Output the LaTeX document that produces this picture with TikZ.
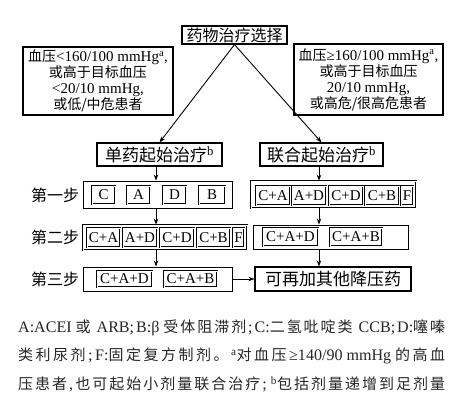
\documentclass[tikz,border=0pt]{standalone}
\usepackage{fontspec}
\setmainfont{Liberation Serif}[Scale=1.07]
\newfontfamily\cjk{Noto Sans CJK SC}
\newcommand\zh[1]{{\cjk #1}}
\def\zsp#1{\ifx#1\relax\else#1\hskip0pt plus1fil\expandafter\zsp\fi}
\newcommand\J[1]{{\cjk\zsp#1\relax}}
\usetikzlibrary{arrows.meta}
\newcommand\Bx[7]{\node[#1,minimum width={(#5)-(#3)},minimum height={(#6)-(#4)}] (#2) at ({((#3)+(#5))/2},{((#4)+(#6))/2}) {#7};}
\begin{document}
\begin{tikzpicture}[x=1pt,y=-1pt,
  obox/.style={draw=black,line width=1.1pt,inner sep=0pt,align=center},
  dbox/.style={draw=black,line width=0.55pt,double=white,double distance=0.8pt,inner sep=0pt,align=center},
  ibox/.style={dbox,font=\fontsize{14}{16}\selectfont},
  arr/.style={line width=0.9pt,-{Stealth[length=6pt,width=4.5pt]}},
  fa/.style={font=\fontsize{16}{18}\selectfont},
  fb/.style={font=\fontsize{14}{16}\selectfont},
  fc/.style={font=\fontsize{17}{19}\selectfont},
  foot/.style={anchor=west,inner sep=0pt,text=black!85,font=\fontsize{15}{17}\selectfont}]
\useasboundingbox[fill=white] (0,0) rectangle (464,405);
% top
\Bx{obox,fa}{top}{182}{26}{287}{44}{\zh{药物治疗选择}}
\Bx{obox,fb}{condl}{23}{47}{173}{115}{\zh{血压}<160/100 mmHg\textsuperscript{a},\\\zh{或高于目标血压}\\<20/10 mmHg,\\\zh{或低/中危患者}}
\Bx{obox,fb}{condr}{294}{44}{443}{115}{\zh{血压}≥160/100 mmHg\textsuperscript{a},\\\zh{或高于目标血压}\\20/10 mmHg,\\\zh{或高危/很高危患者}}
\Bx{obox,fc}{dan}{97}{143}{222}{166}{\zh{单药起始治疗}\textsuperscript{b}}
\Bx{obox,fc}{lian}{260}{143}{383}{166}{\zh{联合起始治疗}\textsuperscript{b}}
% step labels
\node[fa] (l1) at (55,195) {\zh{第一步}};
\node[fa] (l2) at (55,237) {\zh{第二步}};
\node[fa] (l3) at (55,279) {\zh{第三步}};
% step 1 left
\Bx{obox,line width=0.9pt}{s1l}{83}{181}{232}{208}{}
\Bx{ibox}{s1lc}{92}{186}{115}{204}{C}
\Bx{ibox}{s1la}{127}{186}{150}{204}{A}
\Bx{ibox}{s1ld}{163}{186}{186}{204}{D}
\Bx{ibox}{s1lb}{199}{186}{225}{204}{B}
% step 1 right
\Bx{dbox}{s1r}{251}{181}{416}{208}{}
\Bx{ibox}{s1r1}{256}{186}{290}{205}{C+A}
\Bx{ibox}{s1r2}{292}{186}{326}{205}{A+D}
\Bx{ibox}{s1r3}{329}{186}{363}{205}{C+D}
\Bx{ibox}{s1r4}{365}{186}{399}{205}{C+B}
\Bx{ibox}{s1r5}{401}{186}{413}{205}{F}
% step 2 left
\Bx{dbox}{s2l}{83}{225}{247}{250}{}
\Bx{ibox}{s2l1}{87}{228}{120}{247}{C+A}
\Bx{ibox}{s2l2}{123}{228}{157}{247}{A+D}
\Bx{ibox}{s2l3}{160}{228}{194}{247}{C+D}
\Bx{ibox}{s2l4}{197}{228}{230}{247}{C+B}
\Bx{ibox}{s2l5}{233}{228}{244}{247}{F}
% step 2 right
\Bx{obox,line width=0.9pt}{s2r}{253}{225}{408}{249}{}
\Bx{ibox}{s2r1}{263}{228}{318}{246}{C+A+D}
\Bx{ibox}{s2r2}{330}{228}{382}{246}{C+A+B}
% step 3
\Bx{obox,line width=0.9pt}{s3l}{83}{267}{232}{291}{}
\Bx{ibox}{s3l1}{97}{271}{152}{287}{C+A+D}
\Bx{ibox}{s3l2}{164}{271}{217}{287}{C+A+B}
\Bx{obox,fc}{s3r}{255}{267}{411}{291}{\zh{可再加其他降压药}}
% arrows
\coordinate (lx) at (156,0);
\coordinate (rx) at (319,0);
\draw[arr] (top.south) -- (dan.north);
\draw[arr] (top.south) -- (lian.north);
\draw[arr] (dan.south -| lx) -- (s1l.north -| lx);
\draw[arr] (s1l.south -| lx) -- (s2l.north -| lx);
\draw[arr] (s2l.south -| lx) -- (s3l.north -| lx);
\draw[arr] (lian.south -| rx) -- (s1r.north -| rx);
\draw[arr] (s1r.south -| rx) -- (s2r.north -| rx);
\draw[arr] (s2r.south -| rx) -- (s3r.north -| rx);
\draw[arr] (s3l.east) -- (s3r.west);
% footer
\node[foot] (f1) at (18,328) {\makebox[427pt][s]{A:ACEI \J{或} ARB;\hskip0pt plus1fil B:β \J{受体阻滞剂};\hskip0pt plus1fil C:\J{二氢吡啶类} CCB;\hskip0pt plus1fil D:\J{噻嗪}\unskip}};
\node[foot] (f2) at (18,356) {\makebox[427pt][s]{\J{类利尿剂};\hskip0pt plus1fil F:\J{固定复方制剂。}\textsuperscript{a}\J{对血压}≥140/90 mmHg \J{的高血}\unskip}};
\node[foot] (f3) at (18,384) {\makebox[427pt][s]{\J{压患者},\hskip0pt plus1fil\J{也可起始小剂量联合治疗}; \textsuperscript{b}\J{包括剂量递增到足剂量}\unskip}};
\end{tikzpicture}
\end{document}
